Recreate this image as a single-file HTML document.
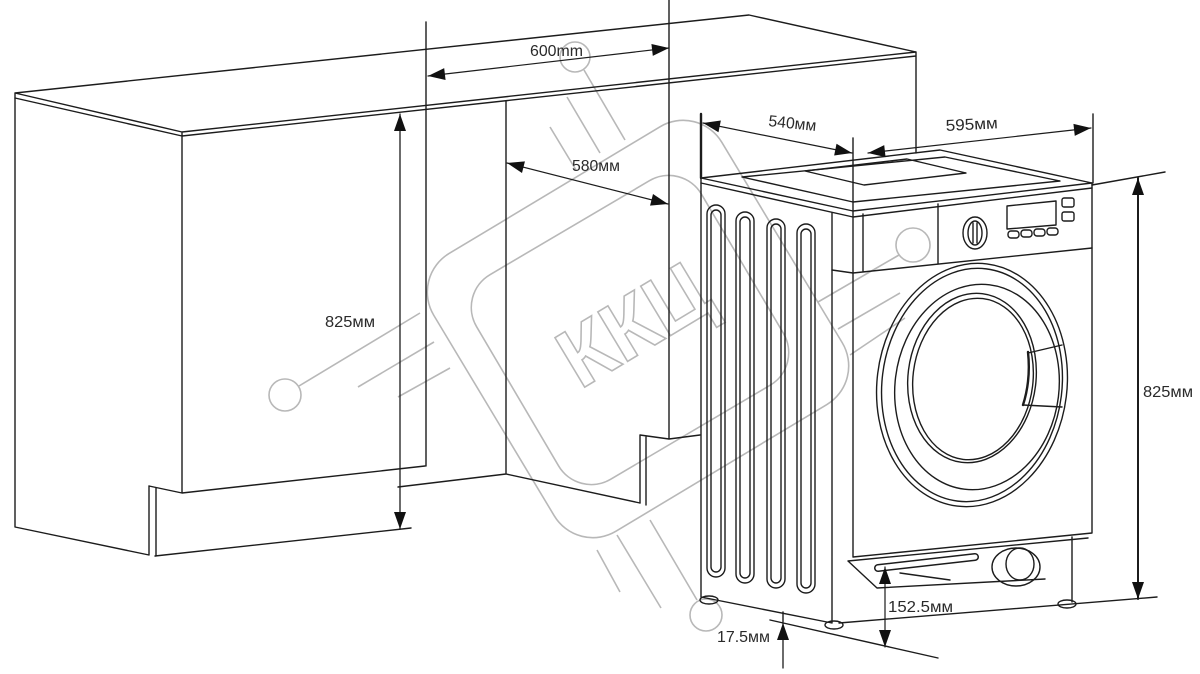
<!DOCTYPE html>
<html><head><meta charset="utf-8"><style>
html,body{margin:0;padding:0;background:#fff;}
svg{display:block;}
text{font-family:"Liberation Sans",Arial,sans-serif;fill:#2a2a2a;}
</style></head><body>
<svg width="1200" height="674" viewBox="0 0 1200 674" xmlns="http://www.w3.org/2000/svg">
<defs>
<marker id="a" markerUnits="userSpaceOnUse" markerWidth="17" markerHeight="12" refX="17" refY="6" orient="auto-start-reverse" overflow="visible"><path d="M0,0 L17,6 L0,12 z" fill="#111" stroke="none"/></marker>
</defs>

<!-- watermark -->
<g stroke="#b8b8b8" stroke-width="1.6" fill="none">
 <rect x="-168" y="-162" width="336" height="324" rx="45" transform="translate(638,329) rotate(-31)"/>
 <rect x="-130.5" y="-118.75" width="261" height="237.5" rx="38" transform="translate(630,330) rotate(-30.5)"/>
 <circle cx="285" cy="395" r="16"/>
 <line x1="299" y1="386" x2="420" y2="313"/>
 <line x1="358" y1="387" x2="434" y2="342"/>
 <line x1="398" y1="397" x2="450" y2="368"/>
 <circle cx="575" cy="57" r="15"/>
 <line x1="584" y1="70" x2="625" y2="140"/>
 <line x1="567" y1="97" x2="600" y2="153"/>
 <line x1="550" y1="127" x2="576" y2="170"/>
 <circle cx="913" cy="245" r="17"/>
 <line x1="899" y1="255" x2="818" y2="302"/>
 <line x1="900" y1="293" x2="838" y2="329"/>
 <line x1="905" y1="318" x2="850" y2="355"/>
 <circle cx="706" cy="615" r="16"/>
 <line x1="697" y1="600" x2="650" y2="520"/>
 <line x1="661" y1="608" x2="617" y2="535"/>
 <line x1="620" y1="592" x2="597" y2="550"/>
 <text transform="translate(580,390) rotate(-31)" font-size="84" font-weight="bold" textLength="160" lengthAdjust="spacingAndGlyphs" style="fill:none;stroke:#b8b8b8;stroke-width:1.6">ККЦ</text>
</g>

<!-- drawing -->
<g stroke="#1c1c1c" stroke-width="1.4" fill="none" stroke-linecap="round" stroke-linejoin="round">
 <!-- countertop -->
 <path d="M15,93 L749,15 L916,52 M15,93 L182,132 L916,52 M15,98 L182,136 L916,56 M15,93 V98 M182,132 V136 M916,52 V153"/>
 <!-- left cabinet -->
 <path d="M15,98 V527 L149,555 M182,136 V493 M149,486 V555 M156,488 V556 M149,486 L182,493 L425,466 M155,556 L411,528"/>
 <path d="M426,22 V466"/>
 <path d="M398,487 L506,474 L640,503 M506,101 V474"/>
 <path d="M640,435 V503 M646,437 V505 M640,435 L669,439 L700,435 M669,0 V439"/>

 <!-- machine top -->
 <path d="M701,178 L853,211 L1092,183 L940,150 Z"/>
 <path d="M701,183 L853,217 L1092,188"/>
 <path d="M805,171 L864,185 L966,173 L907,159 Z"/>
 <path d="M742,177 L853,202 L1060,181 L945,157 Z"/>
 <!-- machine body -->
 <path d="M701,178 V597 L832,623 M832,213 V623 M853,211 V557 M1092,183 V533 M853,557 L1092,533"/>
 <path d="M853,273 L1092,248 M832,270 L853,273 M863,214 V272 M938,204 V264"/>
 <!-- vents -->
 <rect x="707" y="205" width="18" height="372" rx="9"/>
 <rect x="711" y="210" width="10" height="362" rx="5"/>
 <rect x="736" y="212" width="18" height="371" rx="9"/>
 <rect x="740" y="217" width="10" height="361" rx="5"/>
 <rect x="767" y="219" width="18" height="369" rx="9"/>
 <rect x="771" y="224" width="10" height="359" rx="5"/>
 <rect x="797" y="224" width="18" height="369" rx="9"/>
 <rect x="801" y="229" width="10" height="359" rx="5"/>
 <!-- control panel -->
 <ellipse cx="975" cy="233" rx="12" ry="16"/>
 <ellipse cx="975" cy="233" rx="7" ry="12"/>
 <path d="M973,223 V243 M977,223 V243"/>
 <polygon points="1007,206 1056,201 1056,225 1007,229"/>
 <rect x="1008" y="231" width="11" height="7" rx="3"/>
 <rect x="1021" y="230" width="11" height="7" rx="3"/>
 <rect x="1034" y="229" width="11" height="7" rx="3"/>
 <rect x="1047" y="228" width="11" height="7" rx="3"/>
 <rect x="1062" y="198" width="12" height="9" rx="2"/>
 <rect x="1062" y="212" width="12" height="9" rx="2"/>
 <!-- door -->
 <ellipse cx="0" cy="0" rx="95" ry="122" transform="translate(972,385) rotate(7)"/>
 <ellipse cx="0" cy="0" rx="90" ry="117" transform="translate(972,385) rotate(7)"/>
 <ellipse cx="0" cy="0" rx="82" ry="103" transform="translate(977,387) rotate(7)"/>
 <ellipse cx="0" cy="0" rx="64" ry="85" transform="translate(972,378) rotate(7)"/>
 <ellipse cx="0" cy="0" rx="60" ry="81" transform="translate(973,379) rotate(7)"/>
 <path d="M1028,353 L1062,345 M1023,405 L1062,407"/>
 <path d="M1028,352 Q1031,380 1023,405" stroke-width="2.4"/>
 <!-- kick plate -->
 <path d="M848,561 L1088,538 M848,561 L877,588 L1045,579"/>
 <ellipse cx="1016" cy="567" rx="24" ry="19"/>
 <ellipse cx="1020" cy="564" rx="14" ry="16"/>
 <path d="M878,568 L975,557" stroke-width="8"/>
 <path d="M878,568 L975,557" stroke="#fff" stroke-width="5"/>
 <path d="M900,573 L950,580"/>
 <!-- legs / feet -->
 <path d="M1072,537 V602"/>
 <ellipse cx="709" cy="600" rx="9" ry="4"/>
 <ellipse cx="834" cy="625" rx="9" ry="4"/>
 <ellipse cx="1067" cy="604" rx="9" ry="4"/>
 <path d="M839,623 L1157,597"/>

 <!-- dimensions -->
 <line x1="428" y1="76" x2="669" y2="48" stroke-width="1.2" marker-start="url(#a)" marker-end="url(#a)"/>
 <line x1="507" y1="163" x2="668" y2="204" stroke-width="1.2" marker-start="url(#a)" marker-end="url(#a)"/>
 <line x1="400" y1="114" x2="400" y2="529" stroke-width="1.3" marker-start="url(#a)" marker-end="url(#a)"/>
 <path d="M701,114 V178" stroke-width="2.4"/>
 <path d="M853,138 V211"/>
 <line x1="703" y1="123" x2="852" y2="153" stroke-width="1.2" marker-start="url(#a)" marker-end="url(#a)"/>
 <line x1="868" y1="153" x2="1091" y2="128" stroke-width="1.2" marker-start="url(#a)" marker-end="url(#a)"/>
 <path d="M1093,114 V183"/>
 <path d="M1092,185 L1165,172"/>
 <line x1="1138" y1="178" x2="1138" y2="599" stroke-width="2" marker-start="url(#a)" marker-end="url(#a)"/>
 <line x1="885" y1="567" x2="885" y2="647" stroke-width="1.2" marker-start="url(#a)" marker-end="url(#a)"/>
 <path d="M770,620 L938,658 M783,612 V622"/>
 <line x1="783" y1="668" x2="783" y2="623" stroke-width="1.3" marker-end="url(#a)"/>
</g>

<!-- labels -->
<g font-size="16">
 <text x="530" y="56" textLength="53" lengthAdjust="spacingAndGlyphs">600mm</text>
 <text x="572" y="171" textLength="48" lengthAdjust="spacingAndGlyphs">580мм</text>
 <text x="325" y="327" textLength="50" lengthAdjust="spacingAndGlyphs">825мм</text>
 <text transform="translate(768,126) rotate(6)" textLength="48" lengthAdjust="spacingAndGlyphs">540мм</text>
 <text transform="translate(946,131) rotate(-3)" textLength="52" lengthAdjust="spacingAndGlyphs">595мм</text>
 <text x="1143" y="397" textLength="50" lengthAdjust="spacingAndGlyphs">825мм</text>
 <text x="888" y="612" textLength="65" lengthAdjust="spacingAndGlyphs">152.5мм</text>
 <text x="717" y="642" textLength="53" lengthAdjust="spacingAndGlyphs">17.5мм</text>
</g>
</svg>
</body></html>
